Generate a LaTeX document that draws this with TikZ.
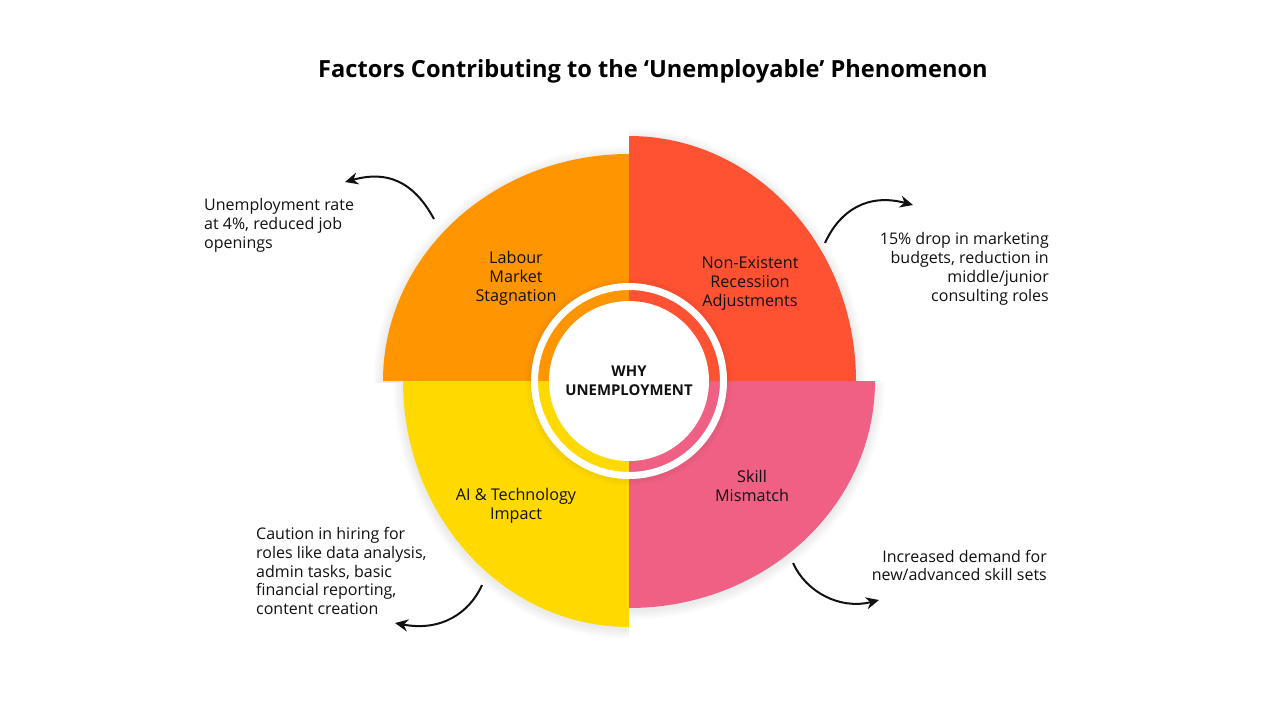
\documentclass[tikz,border=0pt]{standalone}
\usepackage{fontspec}
\setmainfont{Open Sans}
\usetikzlibrary{arrows.meta}
\definecolor{cOrange}{HTML}{FF9500}
\definecolor{cRed}{HTML}{FF5233}
\definecolor{cPink}{HTML}{F06085}
\definecolor{cYellow}{HTML}{FFD900}
\definecolor{cText}{HTML}{111111}
\newcommand\drawsector[5]{\fill[#5] (629,381) -- +(#1:#3 and #4) arc[start angle=#1, end angle=#2, x radius=#3, y radius=#4] -- cycle;}
\begin{document}
\begin{tikzpicture}[x=1pt,y=-1pt,
  lbl/.style={font=\fontsize{16.2}{19}\selectfont, text=cText, inner sep=0pt, align=center},
  note/.style={font=\fontsize{16}{18.8}\selectfont, text=cText, inner sep=0pt},
  arr/.style={-{Stealth[length=13pt,width=12pt]}, line width=2pt, draw=cText}]
\useasboundingbox (0,0) rectangle (1280,720);
\fill[white] (0,0) rectangle (1280,720);

% title
\node[font=\fontsize{23.6}{28}\selectfont\bfseries, text=black, inner sep=0pt] (title) at (653,71)
  {Factors Contributing to the ‘Unemployable’ Phenomenon};

% shadows
\foreach \s in {1,...,10}{
  \drawsector{180}{270}{246+\s}{227+\s}{black,opacity=0.007,yshift=-2pt}
  \drawsector{270}{360}{227+\s}{245+\s}{black,opacity=0.007,yshift=-2pt}
  \drawsector{0}{90}{246+\s}{227+\s}{black,opacity=0.007,yshift=-2pt}
  \drawsector{90}{180}{226+\s}{246+\s}{black,opacity=0.007,yshift=-2pt}
}
% quadrants
\drawsector{180}{270}{246}{227}{cOrange}
\drawsector{90}{180}{226}{246}{cYellow}
\drawsector{0}{90}{246}{227}{cPink}
\drawsector{270}{360}{227}{245}{cRed}

% centre ring
\foreach \s in {1,...,6}{
  \fill[black,opacity=0.008,even odd rule] (629,382) circle (98+\s) (629,381) circle (97);
}
\fill[white,even odd rule] (629,381) circle (98) (629,381) circle (91);
\fill[white] (629,381) circle (80);

% labels
\node[lbl] (lab) at (516,278.5) {Labour\\Market\\Stagnation};
\node[lbl] (rec) at (750,283.5) {Non-Existent\\Recessiion\\Adjustments};
\node[lbl] (skl) at (752,486) {Skill\\Mismatch};
\node[lbl] (ait) at (516,506) {AI \& Technology\\Impact};
\node[lbl, font=\fontsize{14.9}{19}\selectfont\bfseries] (why) at (629,381) {WHY\\UNEMPLOYMENT};

% notes
\node[note, anchor=west, align=left] (n1) at (204,225.5) {Unemployment rate\\at 4\%, reduced job\\openings};
\node[note, anchor=east, align=right, font=\fontsize{16}{19}\selectfont] (n2) at (1049,268.5) {15\% drop in marketing\\budgets, reduction in\\middle/junior\\consulting roles};
\node[note, anchor=west, align=left] (n3) at (256,571) {Caution in hiring for\\roles like data analysis,\\admin tasks, basic\\financial reporting,\\content creation};
\node[note, anchor=east, align=right] (n4) at (1047,565.5) {Increased demand for\\new/advanced skill sets};

% arrows
\coordinate (a1s) at (434,219); \coordinate (a1e) at (345,182);
\coordinate (a2s) at (825,243); \coordinate (a2e) at (913,205);
\coordinate (a3s) at (482,585); \coordinate (a3e) at (395,623);
\coordinate (a4s) at (793,563); \coordinate (a4e) at (879,600);
\draw[arr] (a1s) .. controls (418,190) and (395,168) .. (a1e);
\draw[arr] (a2s) .. controls (840,210) and (868,193) .. (a2e);
\draw[arr] (a3s) .. controls (470,612) and (442,632) .. (a3e);
\draw[arr] (a4s) .. controls (806,592) and (840,610) .. (a4e);
\end{tikzpicture}
\end{document}
